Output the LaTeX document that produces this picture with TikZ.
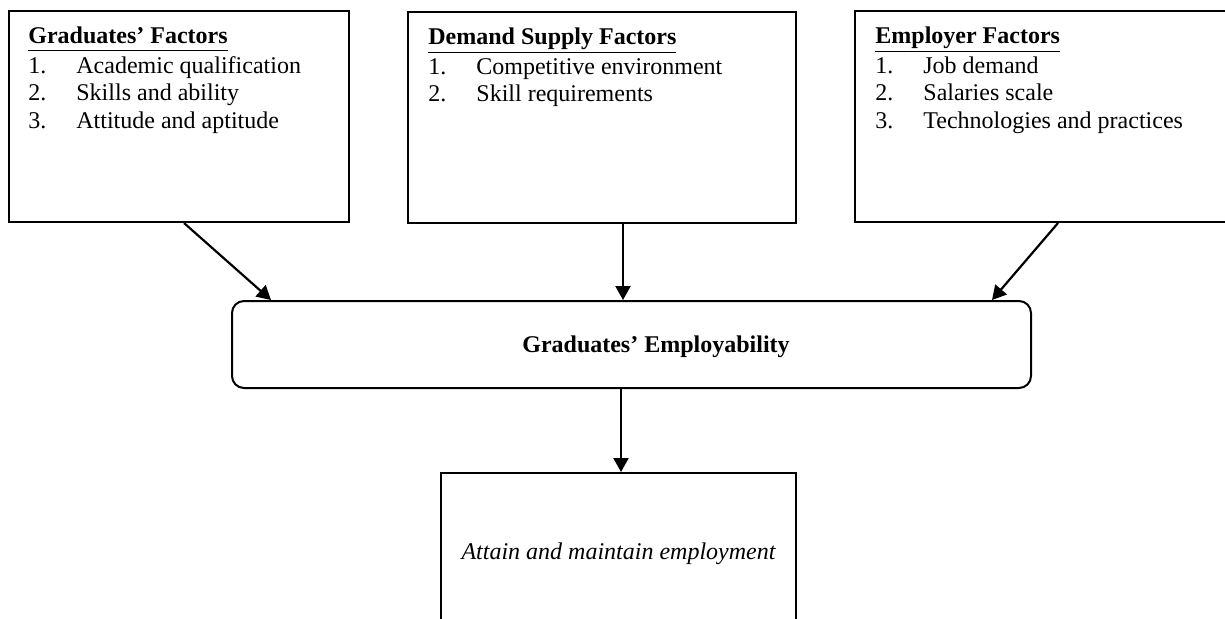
\documentclass[tikz,border=0pt]{standalone}
\usepackage{fontspec}
\setmainfont{Liberation Serif}
\usepackage{tikz}
\usetikzlibrary{arrows.meta,positioning,calc}

\newcommand{\boxhead}[1]{\underline{\textbf{#1}\rule[-2.3pt]{0pt}{1pt}}}

\begin{document}
\begin{tikzpicture}[
  x=0.5pt, y=-0.5pt,
  font=\fontsize{12}{13.8}\selectfont,
  factorbox/.style={draw, line width=1pt, inner sep=0pt},
  listtext/.style={anchor=north west, align=left, inner sep=0pt},
  arr/.style={-{Triangle[length=7pt,width=7.5pt]}, line width=1.1pt},
]
\clip (0,0) rectangle (1225,618);
% factor boxes
\node[factorbox, minimum width=170pt, minimum height=105.5pt] (grad) at (179,116.5) {};
\node[factorbox, minimum width=194pt, minimum height=105.5pt] (supply) at (602,117.5) {};
\node[factorbox, minimum width=195pt, minimum height=105.5pt] (employer) at (1050,116.5) {};
\node[listtext] (gradtext) at ([xshift=10pt, yshift=-8pt]grad.north west)
  {\boxhead{Graduates' Factors}\\[1.2pt]
   \makebox[24pt][l]{1.}Academic qualification\\
   \makebox[24pt][l]{2.}Skills and ability\\
   \makebox[24pt][l]{3.}Attitude and aptitude};
\node[listtext] (supplytext) at ([xshift=10.5pt, yshift=-8pt]supply.north west)
  {\boxhead{Demand Supply Factors}\\[1.2pt]
   \makebox[24pt][l]{1.}Competitive environment\\
   \makebox[24pt][l]{2.}Skill requirements};
\node[listtext] (employertext) at ([xshift=10.5pt, yshift=-8pt]employer.north west)
  {\boxhead{Employer Factors}\\[1.2pt]
   \makebox[24pt][l]{1.}Job demand\\
   \makebox[24pt][l]{2.}Salaries scale\\
   \makebox[24pt][l]{3.}Technologies and practices};
% employability and outcome
\node[factorbox, rounded corners=6pt, minimum width=399.5pt, minimum height=43.5pt]
  (emp) at (631.5,344.5) {};
\node[font=\fontsize{12}{13.8}\selectfont\bfseries] (emplabel) at (656,347)
  {Graduates' Employability};
\node[factorbox, minimum width=177.5pt, minimum height=81pt] (outcome) at (618.5,554)
  {\itshape Attain and maintain employment};
\draw[arr] ([xshift=2.5pt]grad.south) -- ([xshift=20pt]emp.north west);
\draw[arr] ([xshift=10.5pt]supply.south) -- ([xshift=-4.25pt]emp.north);
\draw[arr] ([xshift=4pt]employer.south) -- ([xshift=-20pt]emp.north east);
\draw[arr] ([xshift=-5.25pt]emp.south) -- ([xshift=1.25pt]outcome.north);
\end{tikzpicture}
\end{document}
